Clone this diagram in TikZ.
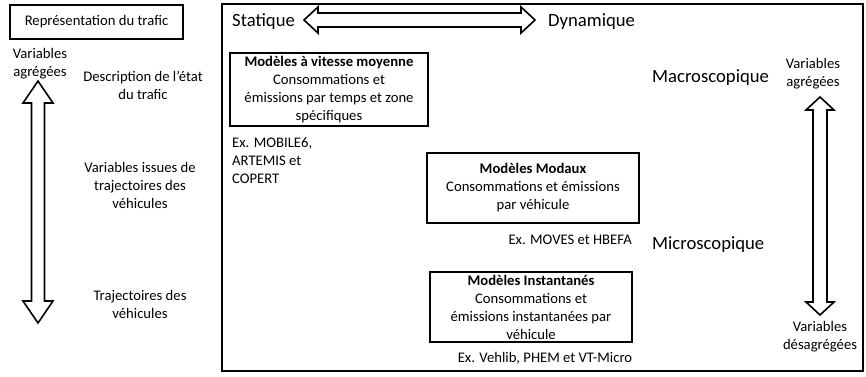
\documentclass[tikz,border=0pt]{standalone}
\usepackage{fontspec}
\setmainfont{Carlito}
\begin{document}
\begin{tikzpicture}[x=1pt,y=-1pt,
  txt/.style={inner sep=0pt, align=center, font=\fontsize{14.67}{18}\selectfont},
  big/.style={inner sep=0pt, font=\fontsize{18.67}{22}\selectfont},
  modelbox/.style={draw, line width=1.1pt, inner sep=0pt, align=center, font=\fontsize{14.67}{18}\selectfont},
  fatarrow/.style={draw, line width=1.6pt, fill=white, line join=miter}
]
\useasboundingbox (0,0) rectangle (866,376);
% main frame
\draw[line width=2.2pt] (222,4) rectangle (863,371);
% left title box
\node[modelbox, minimum width=173pt, minimum height=34pt] (rep) at (96.5,22) {Représentation du trafic};
\node[txt] (vagl) at (40,64) {Variables\\agrégées};
\node[txt] (desc) at (143,85) {Description de l’état\\du trafic};
\node[txt] (vtraj) at (140,185) {Variables issues de\\trajectoires des\\véhicules};
\node[txt] (traj) at (140,304) {Trajectoires des\\véhicules};
% left vertical double arrow
\draw[fatarrow] (38,81) -- (53,103) -- (44.5,103) -- (44.5,301) -- (53,301) -- (38,323)
  -- (23,301) -- (31.5,301) -- (31.5,103) -- (23,103) -- cycle;
% top labels and horizontal arrow
\node[big, anchor=west] (stat) at (232,22) {Statique};
\node[big, anchor=west] (dyn) at (548,22) {Dynamique};
\draw[fatarrow] (304,20) -- (318,7) -- (318,13) -- (521,13) -- (521,7) -- (535,20)
  -- (521,33) -- (521,27) -- (318,27) -- (318,33) -- cycle;
% model boxes
\node[modelbox, minimum width=198pt, minimum height=73pt] (vm) at (329,89.5)
  {\textbf{Modèles à vitesse moyenne}\\Consommations et\\émissions par temps et zone\\spécifiques};
\node[txt, anchor=west, align=left] (exvm) at (232,161) {Ex. MOBILE6,\\ARTEMIS et\\COPERT};
\node[modelbox, minimum width=212pt, minimum height=70pt] (mod) at (533,188)
  {\textbf{Modèles Modaux}\\Consommations et émissions\\par véhicule};
\node[txt, anchor=east] (exmod) at (632,240) {Ex. MOVES et HBEFA};
\node[modelbox, minimum width=202pt, minimum height=70pt] (inst) at (531,307)
  {\textbf{Modèles Instantanés}\\Consommations et\\émissions instantanées par\\véhicule};
\node[txt] (exinst) at (545,358) {Ex. Vehlib, PHEM et VT-Micro};
% right side
\node[big, anchor=west] (macro) at (652,78) {Macroscopique};
\node[big, anchor=west] (micro) at (652,245) {Microscopique};
\node[txt] (vagr) at (813,74) {Variables\\agrégées};
\node[txt] (vdes) at (820,337) {Variables\\désagrégées};
\draw[fatarrow] (820,97) -- (834,110) -- (827,110) -- (827,302) -- (834,302) -- (820,315)
  -- (806,302) -- (813,302) -- (813,110) -- (806,110) -- cycle;
\end{tikzpicture}
\end{document}
